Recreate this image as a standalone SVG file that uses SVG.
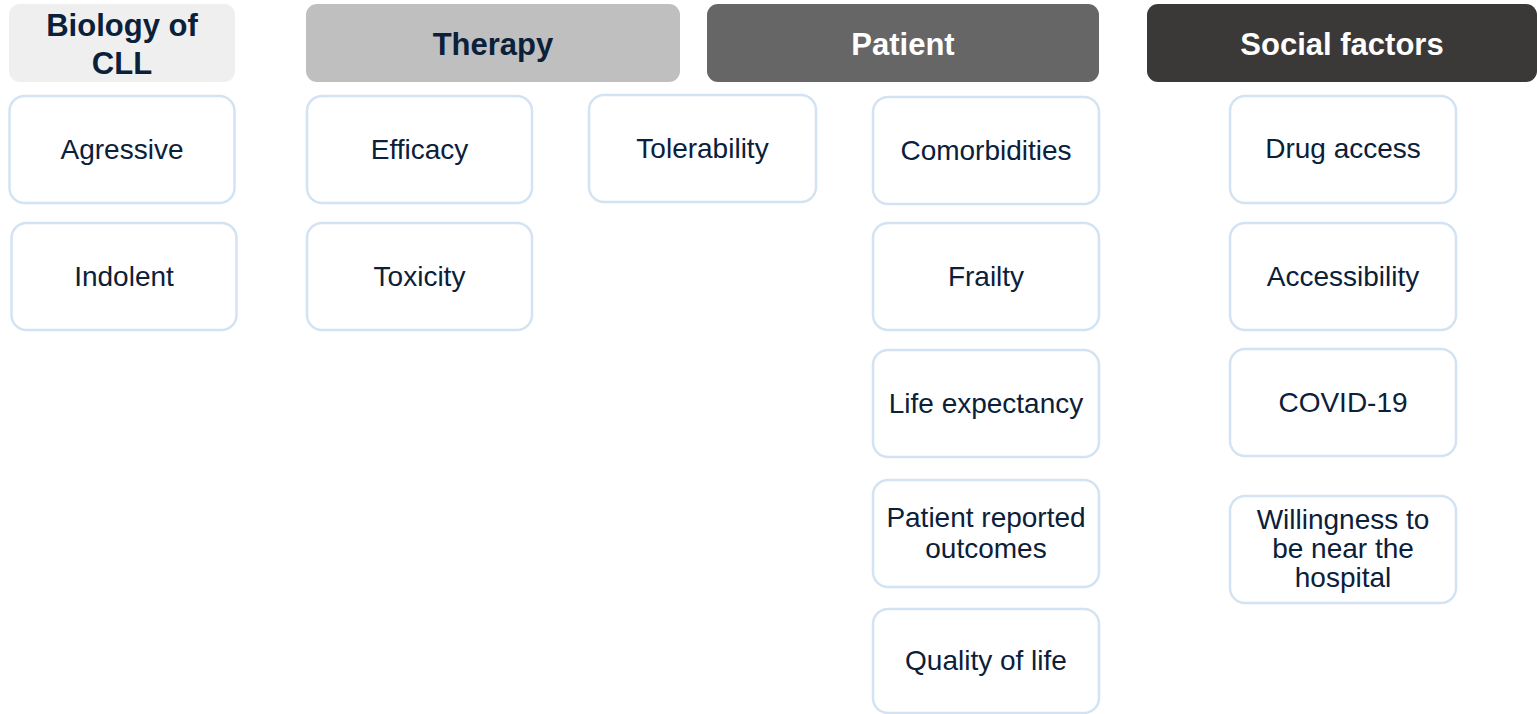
<svg xmlns="http://www.w3.org/2000/svg" width="1537" height="714" viewBox="0 0 1537 714">
  <style>
    .hdr { stroke: none; }
    .hdr-text { font-family: "Liberation Sans", Arial, sans-serif; font-weight: bold; font-size: 31px; text-anchor: middle; }
    .dark { fill: #0b2039; }
    .light { fill: #ffffff; }
    .box { fill: #ffffff; stroke: #d3e3f3; stroke-width: 2.5; }
    .label { font-family: "Liberation Sans", Arial, sans-serif; font-size: 28px; fill: #0b2039; text-anchor: middle; }
  </style>

  <!-- Column headers -->
  <g id="header-biology">
    <rect class="hdr" x="9" y="4" width="226" height="78" rx="11" fill="#efefef"/>
    <text class="hdr-text dark" x="122" y="36">Biology of</text>
    <text class="hdr-text dark" x="122" y="74">CLL</text>
  </g>
  <g id="header-therapy">
    <rect class="hdr" x="306" y="4" width="374" height="78" rx="11" fill="#bfbfbf"/>
    <text class="hdr-text dark" x="493" y="55">Therapy</text>
  </g>
  <g id="header-patient">
    <rect class="hdr" x="707" y="4" width="392" height="78" rx="11" fill="#666666"/>
    <text class="hdr-text light" x="903" y="55">Patient</text>
  </g>
  <g id="header-social">
    <rect class="hdr" x="1147" y="4" width="390" height="78" rx="11" fill="#3b3938"/>
    <text class="hdr-text light" x="1342" y="55">Social factors</text>
  </g>

  <!-- Biology of CLL -->
  <g id="node-agressive">
    <rect class="box" x="9.5" y="96" width="225" height="107" rx="15"/>
    <text class="label" x="122" y="159">Agressive</text>
  </g>
  <g id="node-indolent">
    <rect class="box" x="11.5" y="223" width="225" height="107" rx="15"/>
    <text class="label" x="124" y="286">Indolent</text>
  </g>

  <!-- Therapy -->
  <g id="node-efficacy">
    <rect class="box" x="307" y="96" width="225" height="107" rx="15"/>
    <text class="label" x="419.5" y="159">Efficacy</text>
  </g>
  <g id="node-toxicity">
    <rect class="box" x="307" y="223" width="225" height="107" rx="15"/>
    <text class="label" x="419.5" y="286">Toxicity</text>
  </g>
  <g id="node-tolerability">
    <rect class="box" x="589" y="95" width="227" height="107" rx="15"/>
    <text class="label" x="702.5" y="158">Tolerability</text>
  </g>

  <!-- Patient -->
  <g id="node-comorbidities">
    <rect class="box" x="873" y="97" width="226" height="107" rx="15"/>
    <text class="label" x="986" y="160">Comorbidities</text>
  </g>
  <g id="node-frailty">
    <rect class="box" x="873" y="223" width="226" height="107" rx="15"/>
    <text class="label" x="986" y="286">Frailty</text>
  </g>
  <g id="node-life-expectancy">
    <rect class="box" x="873" y="350" width="226" height="107" rx="15"/>
    <text class="label" x="986" y="413">Life expectancy</text>
  </g>
  <g id="node-pro">
    <rect class="box" x="873" y="480" width="226" height="107" rx="15"/>
    <text class="label" x="986" y="527">Patient reported</text>
    <text class="label" x="986" y="558">outcomes</text>
  </g>
  <g id="node-quality-of-life">
    <rect class="box" x="873" y="609" width="226" height="104" rx="15"/>
    <text class="label" x="986" y="670">Quality of life</text>
  </g>

  <!-- Social factors -->
  <g id="node-drug-access">
    <rect class="box" x="1230" y="96" width="226" height="107" rx="15"/>
    <text class="label" x="1343" y="158">Drug access</text>
  </g>
  <g id="node-accessibility">
    <rect class="box" x="1230" y="223" width="226" height="107" rx="15"/>
    <text class="label" x="1343" y="286">Accessibility</text>
  </g>
  <g id="node-covid">
    <rect class="box" x="1230" y="349" width="226" height="107" rx="15"/>
    <text class="label" x="1343" y="412">COVID-19</text>
  </g>
  <g id="node-willingness">
    <rect class="box" x="1230" y="496" width="226" height="107" rx="15"/>
    <text class="label" x="1343" y="529">Willingness to</text>
    <text class="label" x="1343" y="558">be near the</text>
    <text class="label" x="1343" y="587">hospital</text>
  </g>

  <!-- No connectors in this layout -->
  <g id="connectors"/>
</svg>
